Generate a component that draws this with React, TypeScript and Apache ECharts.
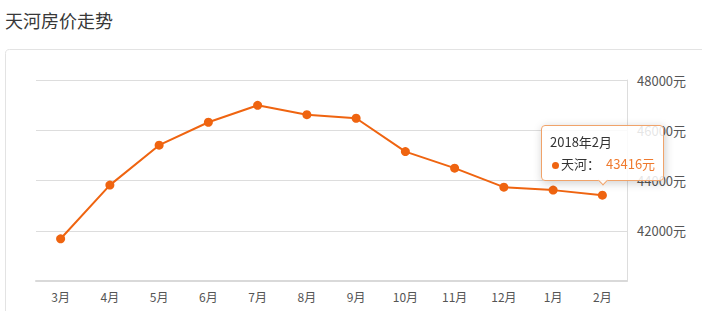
import React, { useEffect, useRef } from "react";
import * as echarts from "echarts";

const titleText = "天河房价走势";
const seriesName = "天河";
const months = ["3月", "4月", "5月", "6月", "7月", "8月", "9月", "10月", "11月", "12月", "1月", "2月"];
const tooltipDates = [
  "2017年3月", "2017年4月", "2017年5月", "2017年6月", "2017年7月", "2017年8月",
  "2017年9月", "2017年10月", "2017年11月", "2017年12月", "2018年1月", "2018年2月",
];
const prices = [41680, 43816, 45405, 46319, 46994, 46621, 46478, 45151, 44491, 43736, 43617, 43416];
const yMin = 40000;
const yMax = 48000;
const yInterval = 2000;
const unit = "元";
const highlightIndex = 11;

const FONT = "'Noto Sans CJK SC', 'Noto Sans', sans-serif";
const ORANGE = "#ef6410";

export default function App() {
  const ref = useRef<HTMLDivElement>(null);

  useEffect(() => {
    document.body.style.margin = "0";
    if (!ref.current) return;
    const chart = echarts.init(ref.current, undefined, { renderer: "svg" });
    chart.setOption({
      animation: false,
      textStyle: { fontFamily: FONT },
      title: {
        text: titleText,
        left: 0,
        top: 6,
        textStyle: { fontSize: 18, fontWeight: "normal", color: "#383838", fontFamily: FONT },
      },
      graphic: [
        {
          type: "rect",
          z: -10,
          silent: true,
          shape: { x: 5.5, y: 49.5, width: 740, height: 320, r: 4 },
          style: { fill: "none", stroke: "#e3e3e3", lineWidth: 1 },
        },
      ],
      grid: { left: 36, right: 75, top: 80, bottom: 30 },
      xAxis: {
        type: "category",
        data: months,
        boundaryGap: true,
        axisLine: { lineStyle: { color: "#d9d9d9", width: 2 } },
        axisTick: { alignWithLabel: true, length: 4, lineStyle: { color: "#d9d9d9" } },
        axisLabel: { color: "#555", fontSize: 12, margin: 9, fontFamily: FONT },
      },
      yAxis: {
        type: "value",
        position: "right",
        min: yMin,
        max: yMax,
        interval: yInterval,
        axisLine: { show: true, lineStyle: { color: "#dddddd" } },
        axisTick: { show: false },
        axisLabel: {
          color: "#555",
          fontSize: 13,
          margin: 10,
          showMinLabel: false,
          fontFamily: FONT,
          formatter: (v: number) => `${v}${unit}`,
        },
        splitLine: { lineStyle: { color: "#dddddd" } },
      },
      tooltip: {
        trigger: "item",
        position: "top",
        triggerOn: "none",
        alwaysShowContent: true,
        transitionDuration: 0,
        backgroundColor: "rgba(255,255,255,0.85)",
        borderColor: "#f0a36a",
        borderWidth: 1,
        padding: [5, 8],
        textStyle: { color: "#333", fontSize: 13, fontFamily: FONT },
        formatter: (p: any) =>
          `<div style="line-height:22px">${tooltipDates[p.dataIndex]}</div>` +
          `<div style="line-height:22px"><span style="display:inline-block;width:7px;height:7px;border-radius:50%;background:${ORANGE};margin:0 2px 0 2px;vertical-align:middle"></span>${p.seriesName}：<span style="color:#ef7a2e;margin-left:6px">${p.value}${unit}</span></div>`,
      },
      series: [
        {
          name: seriesName,
          type: "line",
          data: prices,
          symbol: "circle",
          symbolSize: 9,
          showSymbol: true,
          lineStyle: { color: ORANGE, width: 2 },
          itemStyle: { color: ORANGE },
        },
      ],
    });
    chart.dispatchAction({ type: "showTip", seriesIndex: 0, dataIndex: highlightIndex });
    return () => chart.dispose();
  }, []);

  return <div ref={ref} style={{ width: 702, height: 311 }} />;
}
